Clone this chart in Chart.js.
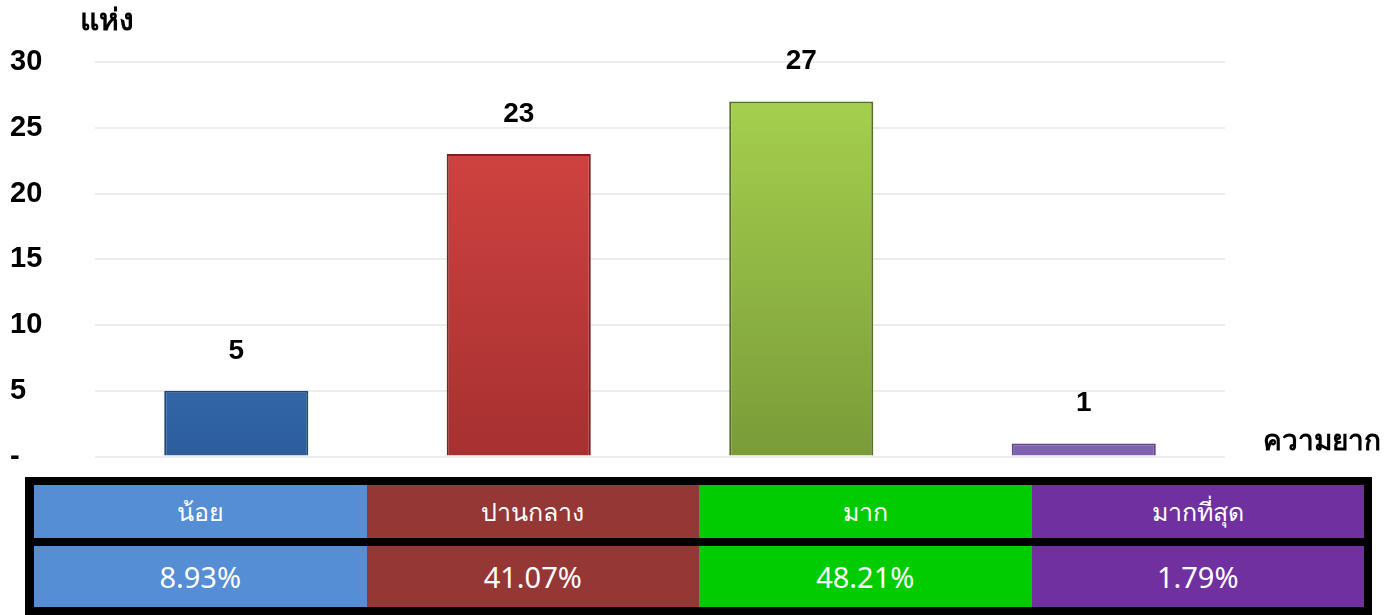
<!DOCTYPE html>
<html>
<head>
<meta charset="utf-8">
<script src="https://cdn.jsdelivr.net/npm/chart.js@4/dist/chart.umd.min.js"></script>
<style>
  body { margin: 0; background: #fff; }
  #wrap { position: relative; width: 1399px; height: 615px; }
  #chartBox { position: absolute; left: 0; top: 0; width: 1399px; height: 477px; }
  #tbl { position: absolute; left: 25px; top: 477px; width: 1347px; height: 138px; background: #000;
         box-sizing: border-box; padding: 8px 8px 8px 9px; }
  .row { display: flex; }
  .row.head { height: 53px; }
  .row.val { height: 61px; margin-top: 8px; }
  .cell { flex: 1; color: #fff; display: flex; align-items: center; justify-content: center;
          font-family: "Noto Sans", "Liberation Sans", sans-serif; }
  .head .cell { font-size: 25px; }
  .val .cell { font-size: 29px; }
</style>
</head>
<body>
<div id="wrap">
  <div id="chartBox"><canvas id="chart"></canvas></div>
  <div id="tbl"><div class="row head" id="headRow"></div><div class="row val" id="valRow"></div></div>
</div>
<script>
// data
var categories = ['น้อย', 'ปานกลาง', 'มาก', 'มากที่สุด'];
var counts = [5, 23, 27, 1];
var percents = ['8.93%', '41.07%', '48.21%', '1.79%'];
var yTicks = [0, 5, 10, 15, 20, 25, 30];
var yTitle = 'แห่ง';
var xTitle = 'ความยาก';

var cellColors = ['#558ED5', '#953735', '#00CC00', '#7030A0'];
var barTop = ['#4F8BD0', '#DA4845', '#A9D550', '#A58AD0'];
var barBottom = ['#2C5E9E', '#A63030', '#7A9B39', '#7F60B0'];
var barEdge = ['#1F4878', '#7A2222', '#566E28', '#5E4488'];

// table under the chart
var headRow = document.getElementById('headRow');
var valRow = document.getElementById('valRow');
for (var i in categories) {
  var h = document.createElement('div');
  h.className = 'cell';
  h.style.background = cellColors[i];
  h.textContent = categories[i];
  headRow.appendChild(h);
  var v = document.createElement('div');
  v.className = 'cell';
  v.style.background = cellColors[i];
  v.textContent = percents[i];
  valRow.appendChild(v);
}

var labelFont = 'bold 28px "Liberation Sans", "Noto Sans", sans-serif';

var extraText = {
  id: 'extraText',
  afterDatasetsDraw: function(chart) {
    var ctx = chart.ctx;
    var area = chart.chartArea;
    ctx.save();
    ctx.fillStyle = '#000';
    ctx.font = labelFont;
    ctx.textAlign = 'center';
    ctx.textBaseline = 'middle';
    var meta = chart.getDatasetMeta(0);
    meta.data.forEach(function(bar, i) {
      ctx.fillText(counts[i], bar.x, bar.y - 40);
    });
    ctx.textAlign = 'left';
    ctx.font = 'bold 30px "Liberation Sans", "Noto Sans", sans-serif';
    ctx.fillText(yTitle, area.left - 15, 22);
    ctx.font = labelFont;
    ctx.fillText(xTitle, area.right + 38, chart.scales.y.getPixelForValue(0) - 14);
    ctx.restore();
  }
};

var ctx = document.getElementById('chart').getContext('2d');
var barChart = new Chart(ctx, {
  type: 'bar',
  data: {
    labels: categories,
    datasets: [{
      data: counts,
      backgroundColor: function(c) {
        var area = c.chart.chartArea;
        if (!area) return barTop[c.dataIndex];
        var el = c.chart.getDatasetMeta(0).data[c.dataIndex];
        var top = el && el.y ? el.y : area.top;
        var g = c.chart.ctx.createLinearGradient(0, top, 0, area.bottom);
        g.addColorStop(0, barTop[c.dataIndex]);
        g.addColorStop(1, barBottom[c.dataIndex]);
        return g;
      },
      borderColor: barEdge,
      borderWidth: 2,
      barPercentage: 0.51,
      categoryPercentage: 1.0
    }]
  },
  options: {
    responsive: true,
    maintainAspectRatio: false,
    animation: false,
    layout: { padding: { top: 62, right: 174, bottom: 0, left: 10 } },
    plugins: { legend: { display: false }, tooltip: { enabled: false } },
    scales: {
      x: {
        afterFit: function(axis) { axis.height = 0; },
        ticks: { display: false },
        grid: { display: false },
        border: { display: false }
      },
      y: {
        min: 0,
        max: 30,
        afterBuildTicks: function(axis) {
          axis.ticks = yTicks.map(function(v) { return { value: v }; });
        },
        afterFit: function(axis) { axis.width = 85; },
        ticks: {
          crossAlign: 'far',
          color: '#000',
          font: { family: '"Liberation Sans", "Noto Sans", sans-serif', size: 29, weight: 'bold' },
          callback: function(v) { return v === 0 ? '-' : v; }
        },
        grid: { color: '#ECECEC', lineWidth: 2, drawTicks: false },
        border: { display: false }
      }
    }
  },
  plugins: [extraText]
});
</script>
</body>
</html>
